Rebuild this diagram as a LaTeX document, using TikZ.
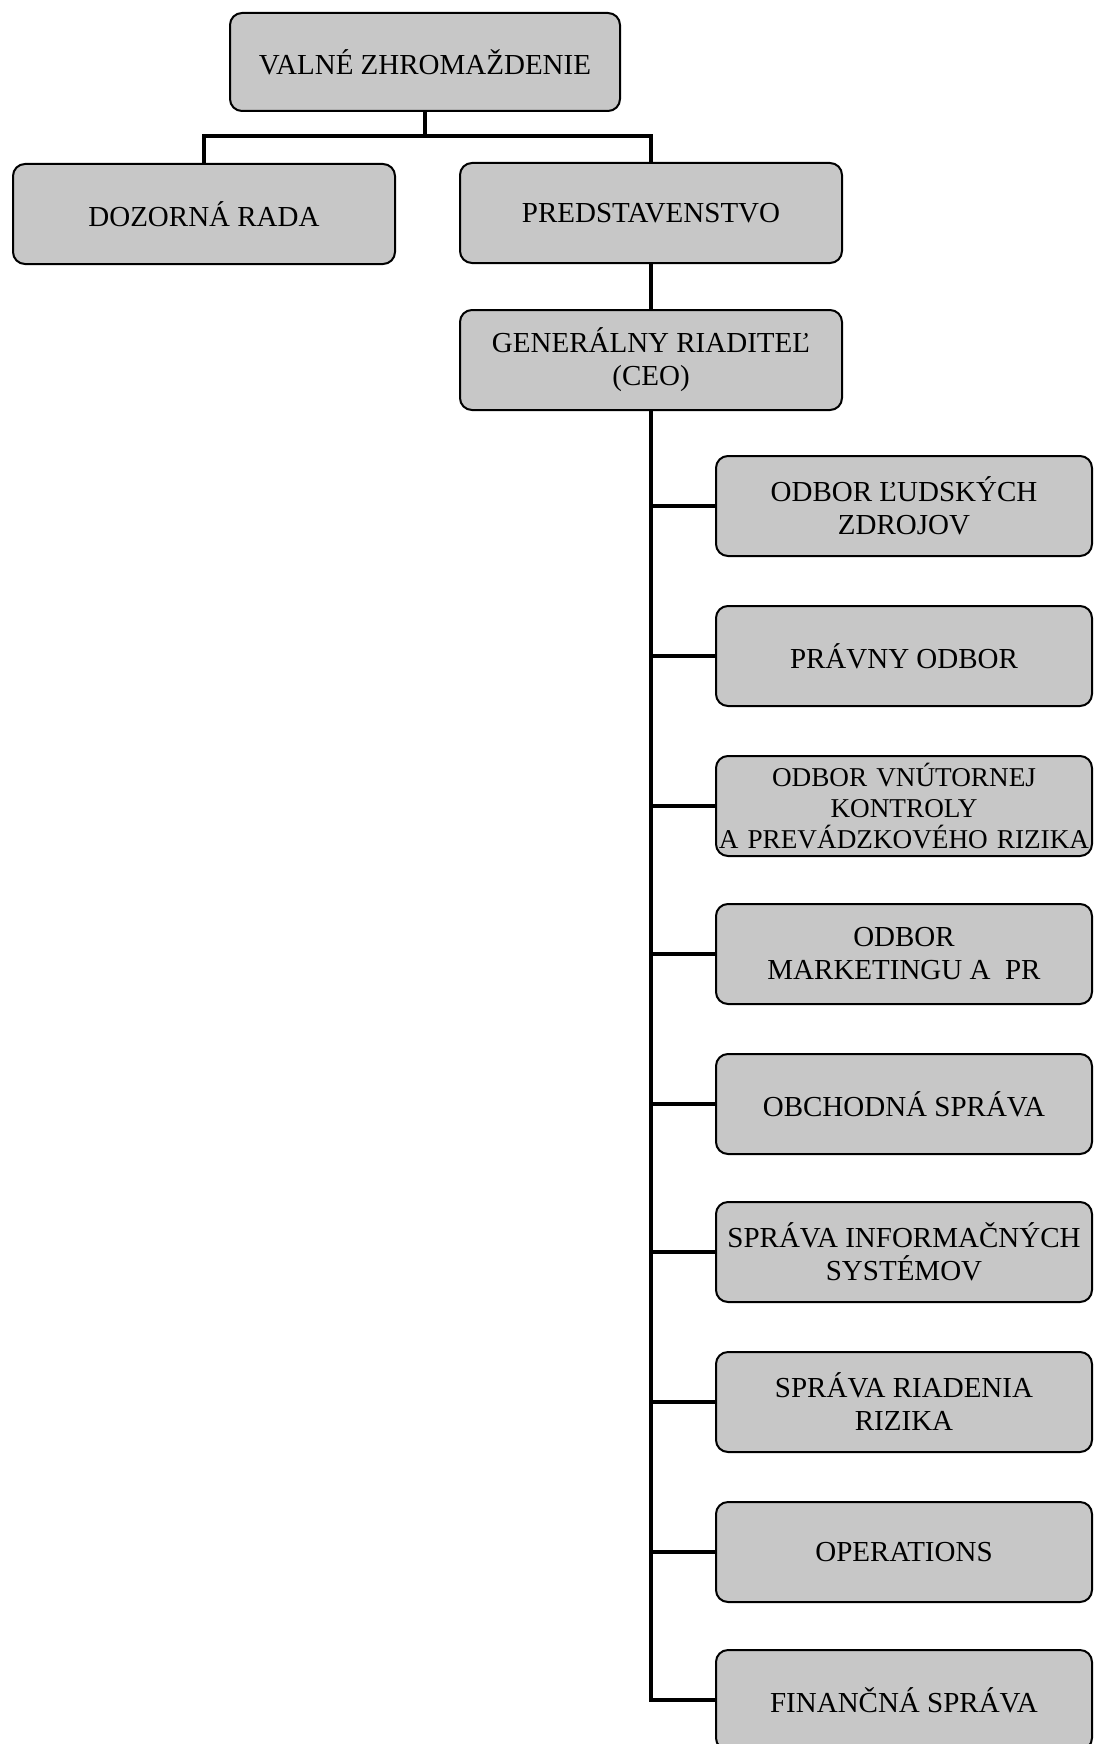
\documentclass[tikz,border=0pt]{standalone}
\usepackage{fontspec}
\setmainfont{Liberation Serif}
\begin{document}
\begin{tikzpicture}[x=0.5pt,y=-0.5pt,
  box/.style={draw=black, line width=1pt, rounded corners=6pt, fill=black!22,
    minimum width=191pt, minimum height=50pt, inner sep=0pt, align=center,
    font=\fontsize{14.5}{16.5}\selectfont},
  conn/.style={line width=2pt, line join=miter}]
\useasboundingbox (0,0) rectangle (1095,1744);
\clip (0,0) rectangle (1095,1744);
\node[box, minimum width=195pt, minimum height=49pt] (valne) at (425,62) {VALNÉ ZHROMAŽDENIE};
\node[box] (doz) at (204,214) {DOZORNÁ RADA};
\node[box] (pred) at (651,213) {PREDSTAVENSTVO};
\node[box] (ceo) at (651,360) {GENERÁLNY RIADITEĽ\\(CEO)};
\begin{scope}[box/.append style={minimum width=188pt}]
\node[box] (b1) at (904,506) {ODBOR ĽUDSKÝCH\\ZDROJOV};
\node[box] (b2) at (904,656) {PRÁVNY ODBOR};
\node[box, text width=186pt, font=\fontsize{13.6}{15.5}\selectfont] (b3) at (904,806) {ODBOR VNÚTORNEJ\\KONTROLY\\A PREVÁDZKOVÉHO RIZIKA};
\node[box] (b4) at (904,954) {ODBOR\\MARKETINGU A~~PR};
\node[box] (b5) at (904,1104) {OBCHODNÁ SPRÁVA};
\node[box] (b6) at (904,1252) {SPRÁVA INFORMAČNÝCH\\SYSTÉMOV};
\node[box] (b7) at (904,1402) {SPRÁVA RIADENIA\\RIZIKA};
\node[box] (b8) at (904,1552) {OPERATIONS};
\node[box] (b9) at (904,1700) {FINANČNÁ SPRÁVA};
\end{scope}
\coordinate (bar) at (425,136);
\draw[conn] (valne.south) -- (bar);
\draw[conn] (doz.north) |- (bar) -| (pred.north);
\draw[conn] (pred.south) -- (ceo.north);
\draw[conn] (ceo.south) -- (ceo.south |- b9.west) -- (b9.west);
\foreach \b in {b1,b2,b3,b4,b5,b6,b7,b8}
  \draw[conn] (ceo.south |- \b.west) -- (\b.west);
\end{tikzpicture}
\end{document}
